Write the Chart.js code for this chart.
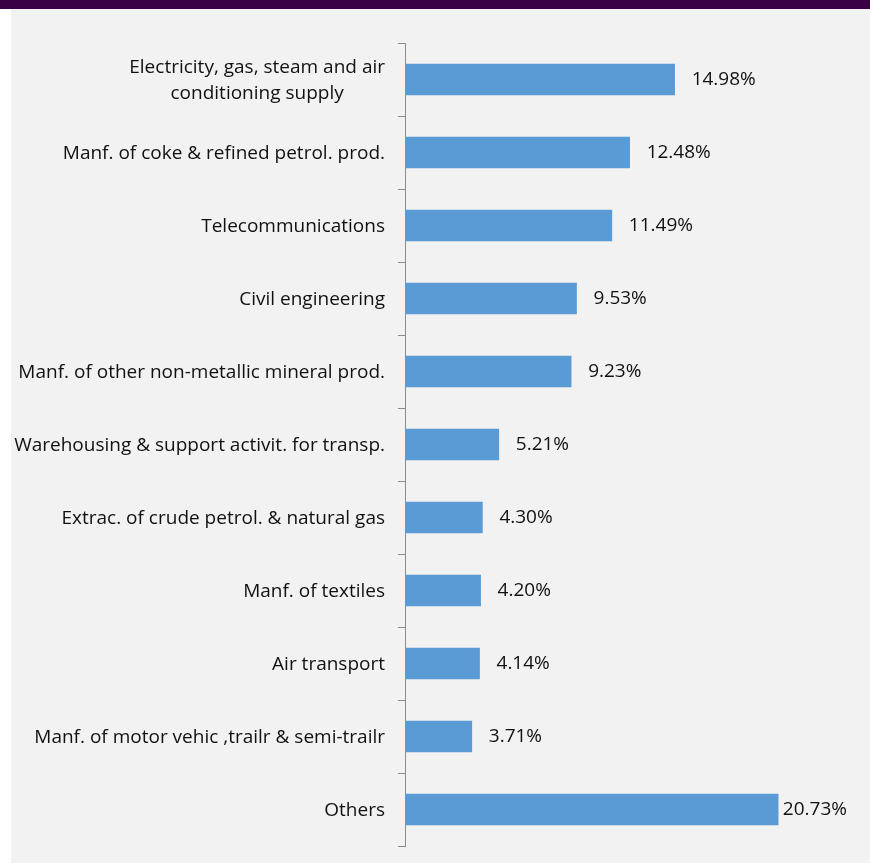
<!DOCTYPE html>
<html>
<head>
<meta charset="utf-8">
<script src="https://cdn.jsdelivr.net/npm/chart.js@4"></script>
<style>
  html, body { margin: 0; padding: 0; background: #ffffff; }
  body { width: 870px; height: 864px; position: relative; overflow: hidden; }
  #band { position: absolute; left: 0; top: 0; width: 870px; height: 9px; background: #3a0046; }
  #panel { position: absolute; left: 11px; top: 9px; width: 859px; height: 854px; background: #f2f2f2; }
  #panel canvas { display: block; }
</style>
</head>
<body>
<div id="band"></div>
<div id="panel"><canvas id="c" width="859" height="854"></canvas></div>
<script>
// Sector shares, top to bottom
const sectors = [
  ['Electricity, gas, steam and air', 'conditioning supply'],
  'Manf. of coke & refined petrol. prod.',
  'Telecommunications',
  'Civil engineering',
  'Manf. of other non-metallic mineral prod.',
  'Warehousing & support activit. for transp.',
  'Extrac. of crude petrol. & natural gas',
  'Manf. of textiles',
  'Air transport',
  'Manf. of motor vehic ,trailr & semi-trailr',
  'Others'
];
const shares = [14.98, 12.48, 11.49, 9.53, 9.23, 5.21, 4.30, 4.20, 4.14, 3.71, 20.73];

const FONT = '"Open Sans", sans-serif';
const SIZE = 19;
const TEXT = '#111111';

// Category labels: each block right-aligned at the axis, lines centred within the block
const categoryLabels = {
  id: 'categoryLabels',
  afterDraw(chart) {
    const y = chart.scales.y;
    const ctx = chart.ctx;
    ctx.save();
    ctx.font = SIZE + 'px ' + FONT;
    ctx.fillStyle = TEXT;
    ctx.textAlign = 'center';
    ctx.textBaseline = 'middle';
    const right = y.right - 7 - 13;
    const lh = 26;
    sectors.forEach((lab, i) => {
      const lines = Array.isArray(lab) ? lab : [lab];
      const w = Math.max(...lines.map(l => ctx.measureText(l).width));
      const cx = right - w / 2;
      const cy = y.getPixelForValue(i) + 1;
      lines.forEach((l, k) => {
        ctx.fillText(l, cx, cy + (k - (lines.length - 1) / 2) * lh);
      });
    });
    ctx.restore();
  }
};

// Value labels to the right of each bar, kept inside the plot area
const valueLabels = {
  id: 'valueLabels',
  afterDatasetsDraw(chart) {
    const ctx = chart.ctx;
    const meta = chart.getDatasetMeta(0);
    const limit = chart.chartArea.right - 8;
    ctx.save();
    ctx.font = SIZE + 'px ' + FONT;
    ctx.fillStyle = TEXT;
    ctx.textAlign = 'left';
    ctx.textBaseline = 'middle';
    meta.data.forEach((bar, i) => {
      const txt = shares[i].toFixed(2) + '%';
      const w = ctx.measureText(txt).width;
      const x = Math.max(bar.x + 3, Math.min(bar.x + 17, limit - w));
      ctx.fillText(txt, x, bar.y);
    });
    ctx.restore();
  }
};

new Chart(document.getElementById('c'), {
  type: 'bar',
  data: {
    labels: sectors,
    datasets: [{
      data: shares,
      backgroundColor: '#5b9bd5',
      borderWidth: 0,
      barThickness: 31
    }]
  },
  options: {
    indexAxis: 'y',
    responsive: false,
    animation: false,
    layout: { padding: { top: 34, bottom: 17, right: 15, left: 0 } },
    plugins: { legend: { display: false }, tooltip: { enabled: false } },
    scales: {
      x: { display: false, min: 0, max: 25 },
      y: {
        afterFit(scale) { scale.width = 394; },
        border: { color: '#8c8c8c', width: 1 },
        grid: { drawOnChartArea: false, tickLength: 7, color: '#8c8c8c', offset: true },
        ticks: { display: false }
      }
    }
  },
  plugins: [categoryLabels, valueLabels]
});
</script>
</body>
</html>
